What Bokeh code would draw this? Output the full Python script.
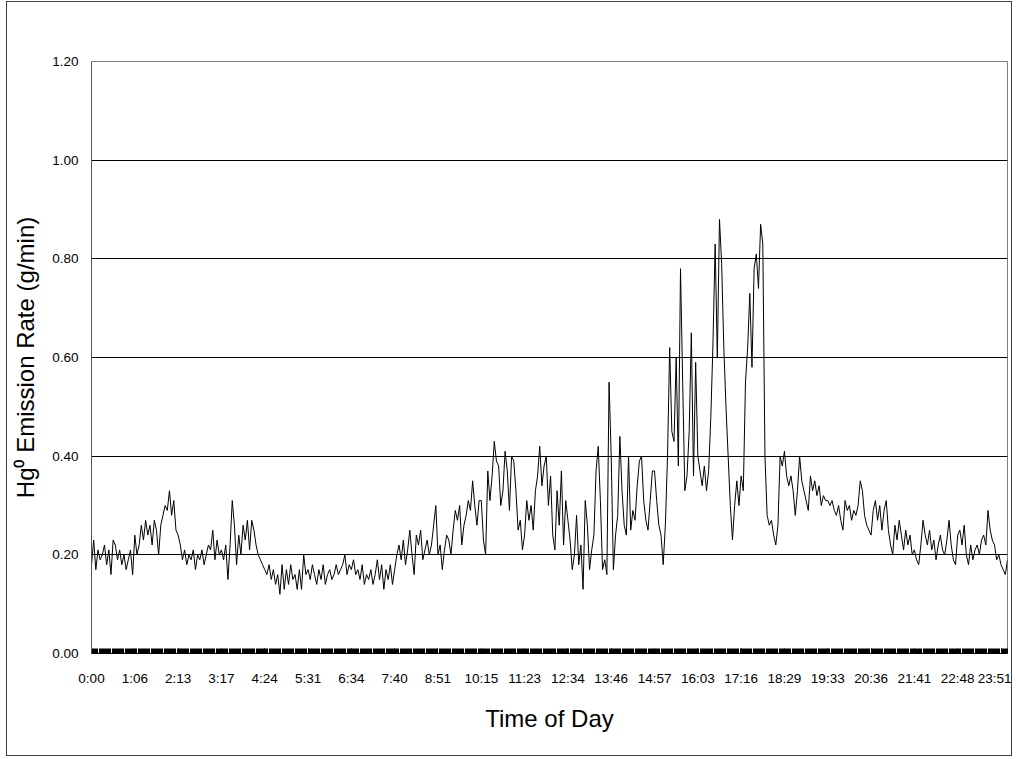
from bokeh.plotting import figure
from bokeh.models import Range1d, FixedTicker, NumeralTickFormatter, ColumnDataSource
from bokeh.embed import file_html
from bokeh.resources import INLINE

# Hg0 emission rate (g/min), in time order
night = [
    0.18, 0.23, 0.17, 0.21, 0.19, 0.20, 0.22, 0.18, 0.21, 0.16, 0.23, 0.22, 0.19, 0.21, 0.18, 0.20, 0.17, 0.19, 0.21, 0.16,
    0.24, 0.20, 0.22, 0.26, 0.23, 0.27, 0.24, 0.26, 0.22, 0.27, 0.25, 0.20, 0.26, 0.28, 0.30, 0.29, 0.33, 0.28, 0.31, 0.25,
    0.24, 0.22, 0.19, 0.21, 0.18, 0.20, 0.19, 0.21, 0.17, 0.20, 0.19, 0.21, 0.18, 0.20, 0.22, 0.21, 0.25, 0.19, 0.23, 0.20,
    0.21, 0.19, 0.22, 0.15, 0.22, 0.31, 0.26, 0.18, 0.24, 0.20, 0.26, 0.23, 0.27, 0.21, 0.27, 0.25, 0.22, 0.20, 0.19, 0.18,
    0.17, 0.16, 0.18, 0.15, 0.17, 0.14, 0.16, 0.12, 0.18, 0.13, 0.17, 0.14, 0.18, 0.15, 0.16, 0.13, 0.17, 0.13, 0.20, 0.16,
    0.17, 0.15, 0.18, 0.16, 0.14, 0.17, 0.15, 0.18, 0.14, 0.16, 0.17, 0.15, 0.16, 0.18, 0.16, 0.17, 0.18, 0.20, 0.16, 0.18,
    0.17, 0.19, 0.16, 0.17, 0.15, 0.18, 0.14, 0.16, 0.15, 0.17, 0.14, 0.16, 0.19, 0.15, 0.18, 0.13, 0.17, 0.15, 0.18, 0.14,
]
morning = [
    0.17, 0.20, 0.22, 0.19, 0.23, 0.18, 0.21, 0.25, 0.20, 0.16, 0.24, 0.22, 0.25, 0.19, 0.21, 0.23, 0.20, 0.22, 0.26, 0.30,
    0.20, 0.22, 0.17, 0.21, 0.24, 0.23, 0.20, 0.25, 0.29, 0.27, 0.30, 0.22, 0.26, 0.28, 0.31, 0.29, 0.35, 0.30, 0.26, 0.31,
    0.31, 0.23, 0.20, 0.37, 0.31, 0.36, 0.43, 0.39, 0.38, 0.30, 0.33, 0.41, 0.37, 0.29, 0.40, 0.39, 0.33, 0.25, 0.27, 0.21,
    0.24, 0.31, 0.27, 0.30, 0.25, 0.33, 0.36, 0.42, 0.34, 0.38, 0.40, 0.30, 0.36, 0.24, 0.21, 0.33, 0.26, 0.37, 0.22, 0.31,
]
afternoon = [
    0.27, 0.23, 0.17, 0.20, 0.28, 0.18, 0.22, 0.13, 0.31, 0.26, 0.17, 0.21, 0.24, 0.37, 0.42, 0.31, 0.17, 0.19, 0.16, 0.55,
    0.40, 0.17, 0.24, 0.28, 0.44, 0.33, 0.26, 0.24, 0.40, 0.25, 0.29, 0.27, 0.34, 0.39, 0.40, 0.31, 0.27, 0.25, 0.31, 0.37,
    0.37, 0.31, 0.26, 0.24, 0.18, 0.26, 0.40, 0.62, 0.45, 0.43, 0.60, 0.38, 0.78, 0.55, 0.33, 0.36, 0.45, 0.65, 0.36, 0.59,
    0.40, 0.37, 0.34, 0.38, 0.33, 0.37, 0.48, 0.63, 0.83, 0.60, 0.88, 0.79, 0.62, 0.50, 0.40, 0.30, 0.23, 0.30, 0.35, 0.30,
    0.36, 0.33, 0.55, 0.62, 0.73, 0.58, 0.78, 0.81, 0.74, 0.87, 0.83, 0.40, 0.28, 0.26, 0.27, 0.24, 0.22, 0.26, 0.40, 0.38,
]
evening = [
    0.41, 0.36, 0.34, 0.36, 0.33, 0.28, 0.33, 0.40, 0.35, 0.33, 0.31, 0.29, 0.36, 0.33, 0.35, 0.32, 0.34, 0.30, 0.32, 0.31,
    0.31, 0.30, 0.31, 0.29, 0.28, 0.30, 0.27, 0.25, 0.31, 0.29, 0.30, 0.27, 0.29, 0.28, 0.30, 0.35, 0.33, 0.28, 0.26, 0.25,
    0.24, 0.29, 0.31, 0.27, 0.30, 0.25, 0.29, 0.31, 0.25, 0.22, 0.20, 0.26, 0.23, 0.27, 0.24, 0.21, 0.25, 0.22, 0.24, 0.20,
    0.21, 0.19, 0.18, 0.22, 0.27, 0.24, 0.22, 0.25, 0.21, 0.23, 0.19, 0.22, 0.24, 0.21, 0.20, 0.23, 0.27, 0.22, 0.19, 0.18,
    0.24, 0.25, 0.22, 0.26, 0.20, 0.18, 0.22, 0.19, 0.21, 0.22, 0.20, 0.23, 0.24, 0.22, 0.29, 0.25, 0.23, 0.22, 0.19, 0.20,
    0.18, 0.17, 0.16, 0.19,
]

time_labels = ["0:00", "1:06", "2:13", "3:17", "4:24", "5:31", "6:34", "7:40", "8:51", "10:15", "11:23",
               "12:34", "13:46", "14:57", "16:03", "17:16", "18:29", "19:33", "20:36", "21:41", "22:48", "23:51"]
y_ticks = [0.0, 0.2, 0.4, 0.6, 0.8, 1.0, 1.2]

rate = night + morning + afternoon + evening
n = len(rate)
step = 20
idx = list(range(n))
label_pos = [i * step for i in range(len(time_labels))]
minor_pos = [i / 2 for i in range(2 * n - 1)]

src = ColumnDataSource(dict(x=idx, y=rate))

FONT = "Liberation Sans"

p = figure(width=1006, height=755, output_backend="svg", toolbar_location=None,
           x_range=Range1d(0, n - 1), y_range=Range1d(0, 1.2))
# outer chart frame
p.styles = {"border": "1px solid #404040", "margin-left": "6px", "margin-top": "1px"}
p.min_border_left = 84
p.min_border_right = 6
p.min_border_top = 59
p.min_border_bottom = 104
p.background_fill_color = "white"
p.border_fill_color = "white"
p.outline_line_color = "#808080"
p.outline_line_width = 1

p.line("x", "y", source=src, line_color="black", line_width=1)

# y axis
p.yaxis.ticker = FixedTicker(ticks=y_ticks)
p.yaxis.formatter = NumeralTickFormatter(format="0.00")
p.yaxis.major_tick_out = 0
p.yaxis.major_tick_in = 0
p.yaxis.minor_tick_out = 0
p.yaxis.minor_tick_in = 0
p.yaxis.major_label_standoff = 13
p.yaxis.major_label_text_font = FONT
p.yaxis.major_label_text_font_size = "13.5px"
p.yaxis.major_label_text_color = "black"
p.yaxis.axis_line_color = "#555555"
p.yaxis.axis_label = "Hg\u2070 Emission Rate (g/min)"
p.yaxis.axis_label_text_font = FONT
p.yaxis.axis_label_text_font_size = "24px"
p.yaxis.axis_label_text_font_style = "normal"
p.yaxis.axis_label_text_color = "black"
p.yaxis.axis_label_standoff = 10

# x axis
p.xaxis.ticker = FixedTicker(ticks=label_pos, minor_ticks=minor_pos)
p.xaxis.major_label_overrides = {pos: lab for pos, lab in zip(label_pos, time_labels)}
p.xaxis.major_tick_in = 5
p.xaxis.major_tick_out = 0
p.xaxis.minor_tick_in = 5
p.xaxis.minor_tick_out = 0
p.xaxis.major_tick_line_color = "black"
p.xaxis.minor_tick_line_color = "black"
p.xaxis.axis_line_color = "black"
p.xaxis.major_label_standoff = 17
p.xaxis.major_label_text_font = FONT
p.xaxis.major_label_text_font_size = "13.5px"
p.xaxis.major_label_text_color = "black"
p.xaxis.axis_label = "Time of Day"
p.xaxis.axis_label_text_font = FONT
p.xaxis.axis_label_text_font_size = "24px"
p.xaxis.axis_label_text_font_style = "normal"
p.xaxis.axis_label_text_color = "black"
p.xaxis.axis_label_standoff = 16

p.xgrid.visible = False
p.ygrid.ticker = FixedTicker(ticks=y_ticks)
p.ygrid.grid_line_color = "black"
p.ygrid.grid_line_width = 1

open("out.html", "w").write(file_html(p, INLINE))
